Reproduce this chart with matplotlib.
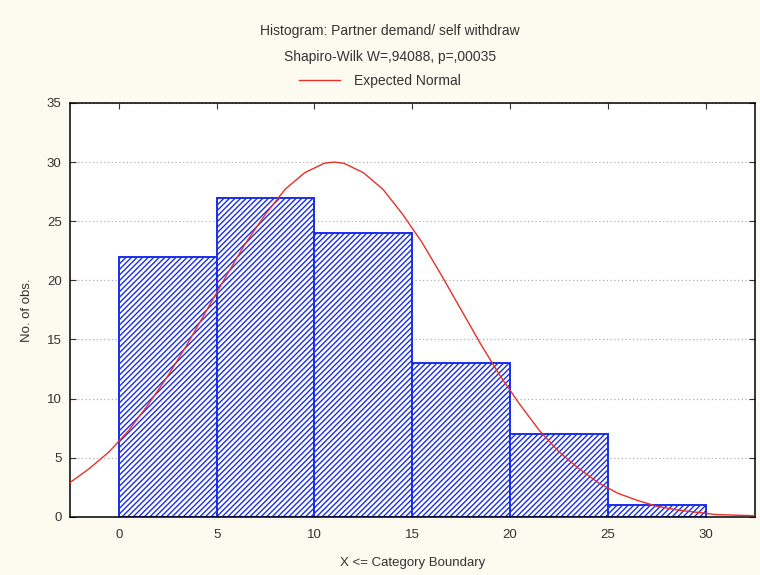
import numpy as np
import matplotlib.pyplot as plt

plt.rcParams['font.family'] = ['Liberation Sans', 'DejaVu Sans']
plt.rcParams['hatch.linewidth'] = 1.0

# histogram bins (category boundaries) and counts
bin_left = [0, 5, 10, 15, 20, 25]
bin_width = 5
counts = [22, 27, 24, 13, 7, 1]

# expected normal curve
curve_x = [-2.5, -1.5, -0.5, 0.5, 1.5, 2.5, 3.5, 4.5, 5.5, 6.5, 7.5, 8.5,
           9.5, 10.5, 11.0, 11.5, 12.5, 13.5, 14.5, 15.5, 16.5, 17.5, 18.5, 19.5,
           20.5, 21.5, 22.5, 23.5, 24.5, 25.5, 26.5, 27.5, 28.5, 29.5, 30.5,
           31.5, 32.5]
curve_y = [2.9, 4.1, 5.5, 7.3, 9.5, 11.9, 14.6, 17.5, 20.4, 23.2, 25.6, 27.7,
           29.1, 29.9, 30.0, 29.9, 29.1, 27.7, 25.6, 23.2, 20.4, 17.5, 14.6, 11.9,
           9.5, 7.3, 5.5, 4.1, 2.9, 2.0, 1.4, 0.9, 0.6, 0.4, 0.2, 0.15, 0.1]

title1 = 'Histogram: Partner demand/ self withdraw'
title2 = 'Shapiro-Wilk W=,94088, p=,00035'

fig = plt.figure(figsize=(7.6, 5.75), dpi=100)
fig.patch.set_facecolor('#fdfaf0')
ax = fig.add_axes([0.092, 0.101, 0.901, 0.720])
ax.set_facecolor('white')

ax.bar(bin_left, counts, width=bin_width, align='edge', color='white',
       edgecolor='#1a2ee8', hatch='//////', linewidth=1.4, zorder=2)
line, = ax.plot(curve_x, curve_y, color='#e8302a', linewidth=1.0, zorder=3)

ax.set_xlim(-2.5, 32.5)
ax.set_ylim(0, 35)
ax.set_xticks([0, 5, 10, 15, 20, 25, 30])
ax.set_yticks(np.arange(0, 36, 5))
ax.yaxis.grid(True, linestyle=(0, (1, 2)), color='#b0b0b0', linewidth=0.9, zorder=0)
ax.set_axisbelow(True)
ax.tick_params(direction='in', length=4, top=True, right=True, labelsize=9.5,
               colors='#333333', pad=9)
ax.tick_params(axis='y', pad=6)
for sp in ax.spines.values():
    sp.set_linewidth(1.1)

ax.set_xlabel('X <= Category Boundary', fontsize=9.5, labelpad=11, color='#333333')
ax.set_ylabel('No. of obs.', fontsize=9.5, labelpad=10, color='#333333')

fig.text(0.513, 0.946, title1, ha='center', va='center', fontsize=10, color='#333333')
fig.text(0.513, 0.901, title2, ha='center', va='center', fontsize=10, color='#333333')
fig.legend([line], ['Expected Normal'], loc='center', bbox_to_anchor=(0.5, 0.859),
           frameon=False, fontsize=10, handlelength=3.0, handletextpad=1.0,
           labelcolor='#333333')

fig.savefig('out.png', dpi=100, facecolor=fig.get_facecolor())
